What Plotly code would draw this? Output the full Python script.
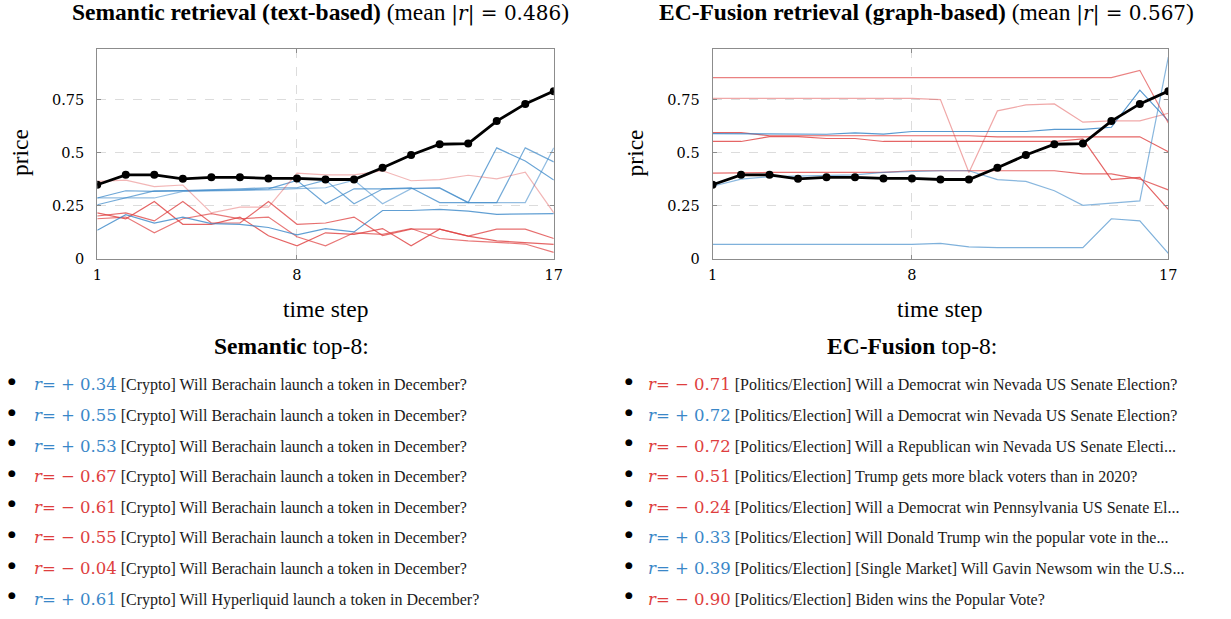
import plotly.graph_objects as go

W, H = 1231, 619

steps = list(range(1, 18))

# target market (same in both panels)
target = [0.349, 0.396, 0.396, 0.377, 0.384, 0.384, 0.379, 0.379, 0.374, 0.374,
          0.429, 0.489, 0.540, 0.543, 0.649, 0.730, 0.790]

# ---- Semantic panel series ----
sem_r = [0.34, 0.55, 0.53, -0.67, -0.61, -0.55, -0.04, 0.61]
sem_labels = ["[Crypto] Will Berachain launch a token in December?"] * 7 + \
             ["[Crypto] Will Hyperliquid launch a token in December?"]
sem_series = [
    [0.287, 0.287, 0.287, 0.318, 0.320, 0.322, 0.325, 0.331, 0.335, 0.371, 0.260, 0.331, 0.333, 0.265, 0.265, 0.265, 0.523],
    [0.287, 0.321, 0.318, 0.320, 0.322, 0.325, 0.330, 0.370, 0.260, 0.330, 0.330, 0.335, 0.265, 0.265, 0.523, 0.461, 0.371],
    [0.255, 0.287, 0.320, 0.322, 0.325, 0.330, 0.335, 0.335, 0.371, 0.260, 0.329, 0.331, 0.335, 0.265, 0.265, 0.523, 0.457],
    [0.217, 0.189, 0.270, 0.163, 0.163, 0.197, 0.109, 0.062, 0.123, 0.116, 0.143, 0.062, 0.140, 0.107, 0.085, 0.078, 0.068],
    [0.202, 0.217, 0.179, 0.270, 0.169, 0.169, 0.270, 0.163, 0.169, 0.197, 0.110, 0.140, 0.140, 0.107, 0.140, 0.140, 0.096],
    [0.189, 0.197, 0.123, 0.189, 0.213, 0.189, 0.197, 0.104, 0.062, 0.123, 0.116, 0.143, 0.096, 0.085, 0.078, 0.070, 0.031],
    [0.365, 0.371, 0.340, 0.348, 0.217, 0.244, 0.244, 0.404, 0.396, 0.396, 0.415, 0.368, 0.373, 0.394, 0.377, 0.408, 0.217],
    [0.135, 0.208, 0.169, 0.197, 0.166, 0.163, 0.148, 0.113, 0.143, 0.127, 0.228, 0.228, 0.233, 0.225, 0.210, 0.213, 0.213],
]
sem_opacity = [0.55, 0.75, 0.7, 0.8, 0.75, 0.7, 0.38, 0.8]

# ---- EC-Fusion panel series ----
ec_r = [-0.71, 0.72, -0.72, -0.51, -0.24, 0.33, 0.39, -0.90]
ec_labels = [
    "[Politics/Election] Will a Democrat win Nevada US Senate Election?",
    "[Politics/Election] Will a Democrat win Nevada US Senate Election?",
    "[Politics/Election] Will a Republican win Nevada US Senate Electi...",
    "[Politics/Election] Trump gets more black voters than in 2020?",
    "[Politics/Election] Will a Democrat win Pennsylvania US Senate El...",
    "[Politics/Election] Will Donald Trump win the popular vote in the...",
    "[Politics/Election] [Single Market] Will Gavin Newsom win the U.S...",
    "[Politics/Election] Biden wins the Popular Vote?",
]
ec_series = [
    [0.595, 0.595, 0.580, 0.580, 0.580, 0.580, 0.580, 0.580, 0.580, 0.580, 0.575, 0.575, 0.575, 0.575, 0.575, 0.575, 0.505],
    [0.590, 0.590, 0.587, 0.587, 0.587, 0.593, 0.588, 0.600, 0.600, 0.600, 0.600, 0.600, 0.610, 0.610, 0.620, 0.795, 0.650],
    [0.553, 0.553, 0.576, 0.576, 0.567, 0.567, 0.553, 0.553, 0.553, 0.553, 0.553, 0.553, 0.553, 0.565, 0.373, 0.384, 0.233],
    [0.404, 0.407, 0.407, 0.407, 0.407, 0.407, 0.407, 0.415, 0.415, 0.415, 0.415, 0.415, 0.415, 0.400, 0.400, 0.376, 0.325],
    [0.756, 0.756, 0.756, 0.756, 0.756, 0.756, 0.756, 0.756, 0.750, 0.407, 0.697, 0.725, 0.730, 0.644, 0.650, 0.650, 0.686],
    [0.342, 0.376, 0.387, 0.390, 0.393, 0.396, 0.407, 0.411, 0.415, 0.415, 0.373, 0.365, 0.321, 0.252, 0.262, 0.273, 0.950],
    [0.068, 0.068, 0.068, 0.068, 0.068, 0.068, 0.068, 0.068, 0.073, 0.057, 0.053, 0.053, 0.053, 0.053, 0.189, 0.179, 0.026],
    [0.854, 0.854, 0.854, 0.854, 0.854, 0.854, 0.854, 0.854, 0.854, 0.854, 0.854, 0.854, 0.854, 0.854, 0.854, 0.888, 0.640],
]
ec_opacity = [0.8, 0.85, 0.8, 0.75, 0.45, 0.6, 0.65, 0.65]

MATH = "DejaVu Serif"
FONT = "Liberation Serif"

titles = [f"<b>Semantic retrieval (text-based)</b> (mean <span style='font-family:{MATH};font-size:20px'>|<i>r</i>| = 0.486</span>)",
          f"<b>EC-Fusion retrieval (graph-based)</b> (mean <span style='font-family:{MATH};font-size:20px'>|<i>r</i>| = 0.567</span>)"]
list_titles = ["<b>Semantic</b> top-8:", "<b>EC-Fusion</b> top-8:"]

y_ticks = [0, 0.25, 0.5, 0.75]
y_tick_text = ["0", "0.25", "0.5", "0.75"]
x_ticks = [1, 8, 17]

BLUE = (58, 135, 200)
RED = (222, 62, 62)

def rgba(c, a):
    return f"rgba({c[0]},{c[1]},{c[2]},{a})"

def px_x(p):
    return p / W

def px_y(p):
    return 1 - p / H

fig = go.Figure()

panels = [
    dict(xa="x", ya="y", series=sem_series, r=sem_r, op=sem_opacity),
    dict(xa="x2", ya="y2", series=ec_series, r=ec_r, op=ec_opacity),
]
for pnl in panels:
    for s, r, op in zip(pnl["series"], pnl["r"], pnl["op"]):
        fig.add_trace(go.Scatter(x=steps, y=s, mode="lines", xaxis=pnl["xa"], yaxis=pnl["ya"],
                                 line=dict(color=rgba(BLUE if r > 0 else RED, op), width=1.2),
                                 showlegend=False, hoverinfo="skip"))
    fig.add_trace(go.Scatter(x=steps, y=target, mode="lines+markers", xaxis=pnl["xa"], yaxis=pnl["ya"],
                             line=dict(color="black", width=2.8),
                             marker=dict(color="black", size=8),
                             showlegend=False))

plot_x = [(93.3, 555.1), (715.7, 1176.7)]
plot_top, plot_bot = 49.3, 262.3

axis_common = dict(showline=True, linecolor="#8c8c8c", linewidth=1, mirror="ticks",
                   ticks="inside", ticklen=4, tickcolor="#8c8c8c",
                   showgrid=True, gridcolor="#dcdcdc", griddash="dash", gridwidth=1,
                   zeroline=False, tickfont=dict(family=MATH, size=14.5, color="black"))

layout = dict(width=W, height=H, margin=dict(l=0, r=0, t=0, b=0),
              paper_bgcolor="white", plot_bgcolor="white")
for i, (x0, x1) in enumerate(plot_x):
    sfx = "" if i == 0 else "2"
    layout["xaxis" + sfx] = dict(domain=[px_x(x0), px_x(x1)], range=[1, 17], tickvals=x_ticks,
                                 anchor="y" + sfx, ticklabelstandoff=3, **axis_common)
    layout["yaxis" + sfx] = dict(domain=[px_y(plot_bot), px_y(plot_top)], range=[0, 0.99],
                                 tickvals=y_ticks, ticktext=y_tick_text,
                                 anchor="x" + sfx, ticklabelstandoff=9, **axis_common)
fig.update_layout(**layout)

ann = []
title_cx = [319, 932]
for i, (x0, x1) in enumerate(plot_x):
    cx = (x0 + x1) / 2
    ann.append(dict(text=titles[i], x=px_x(title_cx[i]), y=px_y(13), xref="paper", yref="paper",
                    showarrow=False, xanchor="center", yanchor="middle",
                    font=dict(family=FONT, size=23.5, color="black")))
    ann.append(dict(text="time step", x=px_x(cx), y=px_y(313), xref="paper", yref="paper",
                    showarrow=False, xanchor="center", yanchor="middle",
                    font=dict(family=FONT, size=23.5, color="black")))
    ann.append(dict(text="price", x=px_x(x0 - 78), y=px_y(155), xref="paper", yref="paper",
                    showarrow=False, xanchor="center", yanchor="middle", textangle=-90,
                    font=dict(family=FONT, size=23.5, color="black")))
    ann.append(dict(text=list_titles[i], x=px_x([290, 917][i]), y=px_y(351), xref="paper", yref="paper",
                    showarrow=False, xanchor="center", yanchor="middle",
                    font=dict(family=FONT, size=23.5, color="black")))

lists = [(sem_r, sem_labels, 7, 27), (ec_r, ec_labels, 631, 648)]
row_y = [390, 421, 452, 483, 514, 545, 576, 607]
for rs, labels, bx, tx in lists:
    for k, (r, lab) in enumerate(zip(rs, labels)):
        col = rgba(BLUE if r > 0 else RED, 1)
        sign = "+" if r > 0 else "−"
        txt = (f"<span style='color:{col};font-family:{MATH};font-size:16.5px'><i>r</i>= {sign} {abs(r):.2f}</span> " + lab)
        ann.append(dict(text=txt, x=px_x(tx), y=px_y(row_y[k]), xref="paper", yref="paper",
                        showarrow=False, xanchor="left", yanchor="middle",
                        font=dict(family=FONT, size=16, color="#1a1a1a")))
        ann.append(dict(text="●", x=px_x(bx), y=px_y(row_y[k] - 4), xref="paper", yref="paper",
                        showarrow=False, xanchor="center", yanchor="middle",
                        font=dict(family="DejaVu Sans", size=9, color="black")))

fig.update_layout(annotations=ann)
fig.write_html("out.html", config={"displayModeBar": False},
               post_script="document.body.style.margin='0px';document.body.style.overflow='hidden';")
